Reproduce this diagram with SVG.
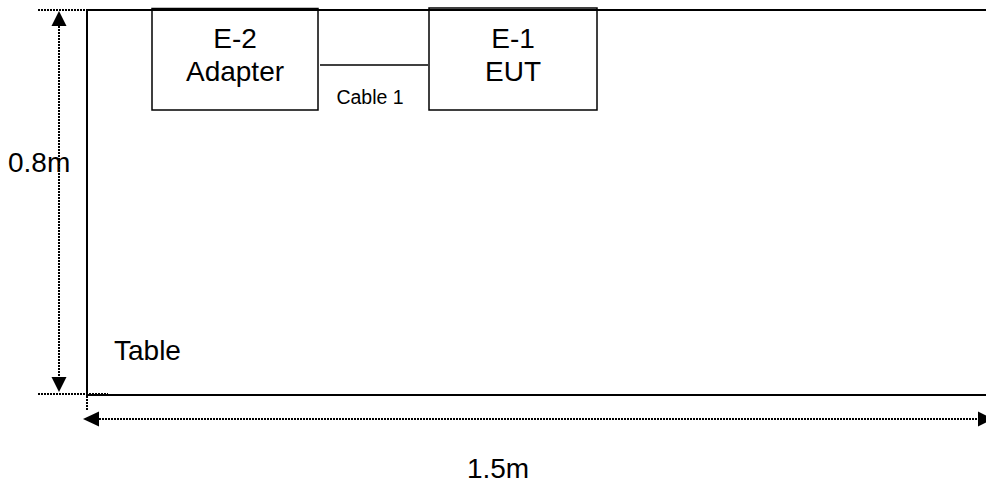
<svg xmlns="http://www.w3.org/2000/svg" width="986" height="485" viewBox="0 0 986 485">
<style>
.solid{fill:none;stroke:#000;stroke-width:1.5}
.edge{fill:none;stroke:#000;stroke-width:2}
.dot{fill:none;stroke:#000;stroke-width:2;stroke-dasharray:2 1}
.big{font-family:"Liberation Sans",Arial,sans-serif;font-size:28px;fill:#000}
.small{font-family:"Liberation Sans",Arial,sans-serif;font-size:19.5px;fill:#000}
</style>
<rect width="986" height="485" fill="#fff"/>
<g id="table">
<path class="edge" d="M986 10 H87 V395 H986"/>
<text class="big" x="114" y="360">Table</text>
</g>
<g id="connectors">
<line class="solid" x1="320" y1="65" x2="428" y2="65"/>
<text class="small" x="370" y="104" text-anchor="middle">Cable 1</text>
</g>
<g id="e2">
<rect class="solid" x="152" y="8.5" width="166" height="101.5" fill="#fff"/>
<text class="big" x="235" y="48" text-anchor="middle">E-2</text>
<text class="big" x="235" y="81" text-anchor="middle">Adapter</text>
</g>
<g id="e1">
<rect class="solid" x="429" y="8" width="168" height="102" fill="#fff"/>
<text class="big" x="513" y="48" text-anchor="middle">E-1</text>
<text class="big" x="513" y="81" text-anchor="middle">EUT</text>
</g>
<g id="dimensions">
<line class="dot" x1="38" y1="10" x2="108" y2="10"/>
<line class="dot" x1="38" y1="394" x2="108" y2="394"/>
<line class="dot" x1="59" y1="26" x2="59" y2="378"/>
<polygon points="59,11 51.5,26 66.5,26" fill="#000"/>
<polygon points="59,392 51.5,377 66.5,377" fill="#000"/>
<line class="dot" x1="87" y1="396" x2="87" y2="410"/>
<line class="dot" x1="99" y1="419" x2="978" y2="419"/>
<polygon points="83,419 99,411.5 99,426.5" fill="#000"/>
<polygon points="993,419 978,411.5 978,426.5" fill="#000"/>
<text class="big" x="8" y="172">0.8m</text>
<text class="big" x="498" y="478" text-anchor="middle">1.5m</text>
</g>
</svg>
